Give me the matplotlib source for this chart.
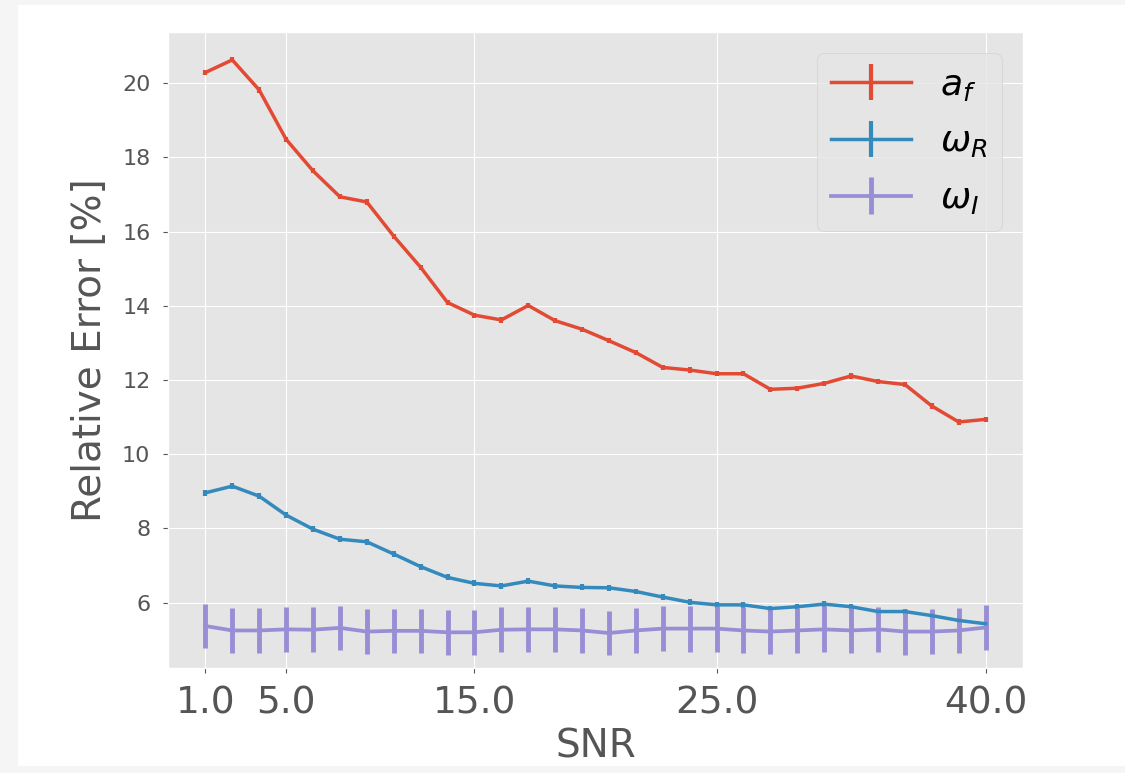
import numpy as np
import matplotlib
matplotlib.use("Agg")
import matplotlib.pyplot as plt
from matplotlib.patches import Rectangle

plt.style.use("ggplot")

# relative errors [%] for each SNR step (30 steps from 1 to 40)
af_err = [20.29, 20.63, 19.82, 18.49, 17.64, 16.94, 16.80, 15.88, 15.04, 14.09,
          13.75, 13.62, 14.01, 13.60, 13.37, 13.06, 12.74, 12.34, 12.27, 12.17,
          12.17, 11.75, 11.78, 11.91, 12.11, 11.96, 11.88, 11.30, 10.87, 10.94]
af_std = [0.07] * 30

wr_err = [8.96, 9.14, 8.87, 8.36, 7.98, 7.71, 7.64, 7.31, 6.97, 6.68,
          6.52, 6.45, 6.58, 6.45, 6.41, 6.40, 6.30, 6.15, 6.01, 5.94,
          5.94, 5.84, 5.89, 5.96, 5.89, 5.76, 5.76, 5.65, 5.52, 5.43]
wr_std = [0.08] * 30

wi_err = [5.37, 5.25, 5.25, 5.28, 5.27, 5.32, 5.22, 5.24, 5.24, 5.20,
          5.20, 5.27, 5.28, 5.28, 5.25, 5.18, 5.25, 5.30, 5.30, 5.30,
          5.25, 5.22, 5.25, 5.28, 5.25, 5.28, 5.22, 5.22, 5.25, 5.33]
wi_std = [0.60, 0.60, 0.60, 0.60, 0.60, 0.60, 0.60, 0.60, 0.60, 0.60,
          0.60, 0.60, 0.60, 0.60, 0.60, 0.60, 0.60, 0.61, 0.62, 0.62,
          0.62, 0.61, 0.61, 0.62, 0.62, 0.60, 0.62, 0.60, 0.61, 0.60]

tick_idx = [0, 3, 10, 19, 29]
tick_labels = ["1.0", "5.0", "15.0", "25.0", "40.0"]

x = np.arange(len(af_err))

fig = plt.figure(figsize=(11.25, 7.73), dpi=100)
fig.patch.set_facecolor("#f5f5f5")
# white page area of the screenshot
fig.patches.append(Rectangle((18 / 1125, 7 / 773), 1 - 18 / 1125, 1 - 12 / 773,
                             transform=fig.transFigure, facecolor="white",
                             edgecolor="none", zorder=-10))
ax = fig.add_axes([167.7 / 1125, 1 - 668.3 / 773, (1023.3 - 167.7) / 1125, (668.3 - 31.7) / 773])

ax.errorbar(x, af_err, yerr=af_std, color="#E24A33", lw=2.5, elinewidth=3, label=r"$a_f$")
ax.errorbar(x, wr_err, yerr=wr_std, color="#348ABD", lw=2.5, elinewidth=3, label=r"$\omega_R$")
ax.errorbar(x, wi_err, yerr=wi_std, color="#988ED5", lw=2.7, elinewidth=3.5, label=r"$\omega_I$")

ax.set_xlim(-1.4, 30.4)
ax.set_ylim(4.23, 21.39)
ax.set_xticks(tick_idx)
ax.set_xticklabels(tick_labels, fontsize=27)
ax.tick_params(axis="x", pad=9)
ax.tick_params(axis="y", labelsize=16, pad=9)
ax.set_yticks([6, 8, 10, 12, 14, 16, 18, 20])
ax.set_xlabel("SNR", fontsize=28, labelpad=4)
ax.set_ylabel("Relative Error [%]", fontsize=28, labelpad=9)

ax.legend(loc="upper right", fontsize=26, handlelength=2.2, labelspacing=0.6,
          borderaxespad=0.6)

fig.savefig("out.png", dpi=100)
